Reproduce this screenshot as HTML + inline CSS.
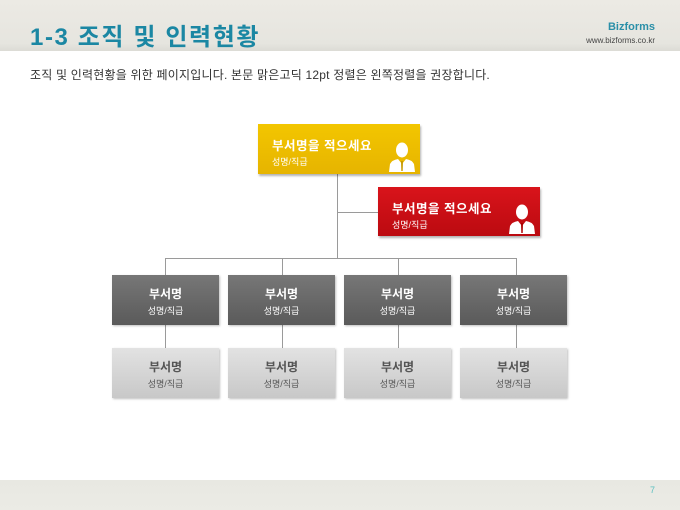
<!DOCTYPE html>
<html><head><meta charset="utf-8">
<style>
*{margin:0;padding:0;box-sizing:border-box}
body{width:680px;height:510px;position:relative;overflow:hidden;background:#fff;font-family:"Liberation Sans","Noto Sans CJK KR","NanumGothic",sans-serif}
.abs{position:absolute}
.hdr{left:0;top:0;width:680px;height:51px;background:linear-gradient(180deg,#eceae4 0%,#e6e5df 85%,#dcdbd5 100%)}
.ftr{left:0;top:480px;width:680px;height:30px;background:linear-gradient(180deg,#e8e8e2,#ebebe5)}
.title{left:30px;top:24px;font-size:24px;font-weight:bold;color:#1b87a3;letter-spacing:1.6px;line-height:28px;white-space:nowrap}
.biz{right:25px;top:21px;font-size:11px;font-weight:bold;color:#2a8fa8;text-align:right}
.www{right:25px;top:36px;font-size:8px;color:#444;text-align:right}
.body{left:30px;top:66px;font-size:12px;color:#333;letter-spacing:0.2px;white-space:nowrap}
.ln{background:#9a9a9a}
.box{position:absolute;color:#fff}
.big{box-shadow:1px 2px 2px rgba(0,0,0,.3)}
.bt{position:absolute;left:14px;top:11px;font-size:12.5px;font-weight:bold;letter-spacing:0.5px}
.bs{position:absolute;left:14px;top:31px;font-size:9px}
.cell{position:absolute;width:107px;height:50px;text-align:center;box-shadow:1px 1px 2px rgba(0,0,0,.25)}
.cell .t{position:absolute;left:0;right:0;top:10px;font-size:12px;font-weight:bold}
.cell .s{position:absolute;left:0;right:0;top:29px;font-size:9px}
.dark{background:linear-gradient(180deg,#777 0%,#5a5a5a 100%);color:#fff}
.light{background:linear-gradient(180deg,#e2e2e2 0%,#c8c8c8 100%);color:#555}
</style></head><body>
<div class="abs hdr"></div>
<div class="abs title">1-3 조직 및 인력현황</div>
<div class="abs biz">Bizforms</div>
<div class="abs www">www.bizforms.co.kr</div>
<div class="abs body">조직 및 인력현황을 위한 페이지입니다. 본문 맑은고딕 12pt 정렬은 왼쪽정렬을 권장합니다.</div>

<div class="abs ln" style="left:337px;top:174px;width:1px;height:84px"></div>
<div class="abs ln" style="left:337px;top:212px;width:41px;height:1px"></div>
<div class="abs ln" style="left:165px;top:258px;width:352px;height:1px"></div>
<div class="abs ln" style="left:165px;top:258px;width:1px;height:17px"></div>
<div class="abs ln" style="left:282px;top:258px;width:1px;height:17px"></div>
<div class="abs ln" style="left:398px;top:258px;width:1px;height:17px"></div>
<div class="abs ln" style="left:516px;top:258px;width:1px;height:17px"></div>
<div class="abs ln" style="left:165px;top:325px;width:1px;height:23px"></div>
<div class="abs ln" style="left:282px;top:325px;width:1px;height:23px"></div>
<div class="abs ln" style="left:398px;top:325px;width:1px;height:23px"></div>
<div class="abs ln" style="left:516px;top:325px;width:1px;height:23px"></div>

<div class="box big" style="left:258px;top:124px;width:162px;height:50px;background:linear-gradient(180deg,#f3c600 0%,#e6b400 100%)">
<div class="bt">부서명을 적으세요</div><div class="bs">성명/직급</div>
<svg class="abs" style="left:130px;top:18px" width="28" height="30" viewBox="0 0 28 30"><ellipse cx="14" cy="8" rx="6" ry="7.5" fill="#fff"/><path d="M1 30 L2 22 Q4 18 10 17 L14 22 L18 17 Q24 18 26 22 L27 30Z" fill="#fff"/><path d="M13 19 L15 19 L14.7 29 L13.3 29Z" fill="#c79a00"/></svg>
</div>
<div class="box big" style="left:378px;top:187px;width:162px;height:49px;background:linear-gradient(180deg,#d9141b 0%,#bb0a10 100%)">
<div class="bt">부서명을 적으세요</div><div class="bs">성명/직급</div>
<svg class="abs" style="left:130px;top:17px" width="28" height="30" viewBox="0 0 28 30"><ellipse cx="14" cy="8" rx="6" ry="7.5" fill="#fff"/><path d="M1 30 L2 22 Q4 18 10 17 L14 22 L18 17 Q24 18 26 22 L27 30Z" fill="#fff"/><path d="M13 19 L15 19 L14.7 29 L13.3 29Z" fill="#a00"/></svg>
</div>

<div class="cell dark" style="left:112px;top:275px"><div class="t">부서명</div><div class="s">성명/직급</div></div>
<div class="cell dark" style="left:228px;top:275px"><div class="t">부서명</div><div class="s">성명/직급</div></div>
<div class="cell dark" style="left:344px;top:275px"><div class="t">부서명</div><div class="s">성명/직급</div></div>
<div class="cell dark" style="left:460px;top:275px"><div class="t">부서명</div><div class="s">성명/직급</div></div>
<div class="cell light" style="left:112px;top:348px"><div class="t">부서명</div><div class="s">성명/직급</div></div>
<div class="cell light" style="left:228px;top:348px"><div class="t">부서명</div><div class="s">성명/직급</div></div>
<div class="cell light" style="left:344px;top:348px"><div class="t">부서명</div><div class="s">성명/직급</div></div>
<div class="cell light" style="left:460px;top:348px"><div class="t">부서명</div><div class="s">성명/직급</div></div>

<div class="abs ftr"></div>
<div class="abs" style="left:650px;top:485px;font-size:9px;color:#5cc0c0">7</div>
</body></html>
